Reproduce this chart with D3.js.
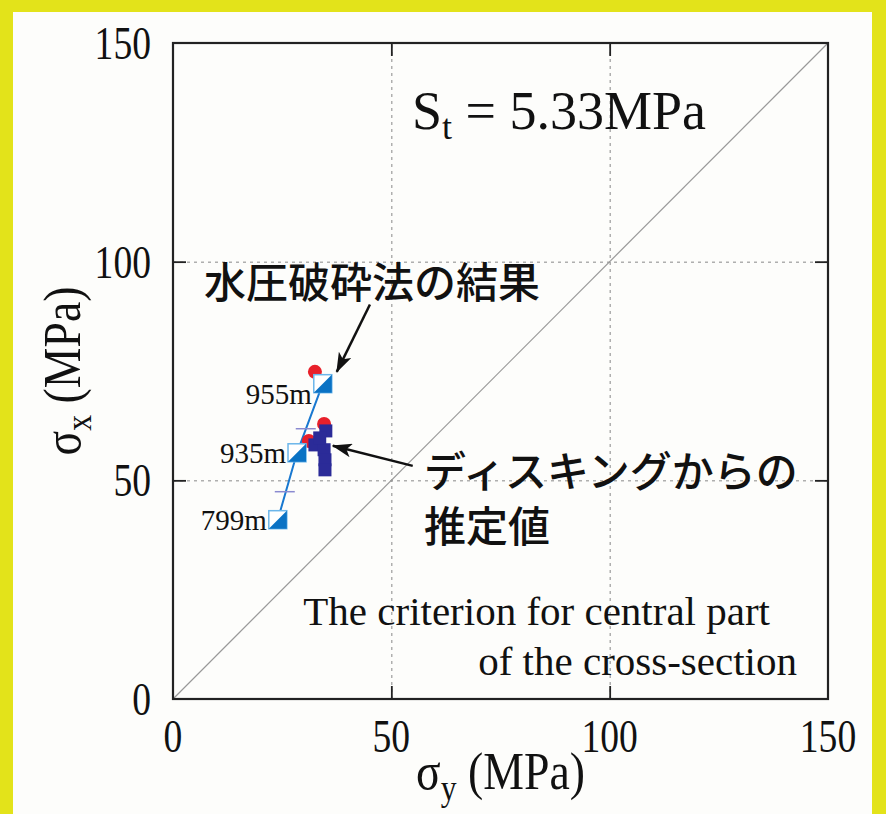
<!DOCTYPE html>
<html>
<head>
<meta charset="utf-8">
<script src="https://cdn.jsdelivr.net/npm/d3@7"></script>
<style>
  body { margin: 0; background: #e3e31a; }
  svg { display: block; }
</style>
</head>
<body>
<div id="vizArea"></div>
<script>
// hydraulic fracturing results (sigma_y, sigma_x) with depth
const hfDepths = ['799m', '935m', '955m']
const hfSy = [24.0, 28.4, 34.3]
const hfSx = [41.0, 56.3, 72.1]

// error caps along the fracturing line
const capSy = [30.4, 25.6]
const capSx = [61.8, 47.4]

// red circles
const redSy = [32.5, 34.6, 31.1]
const redSx = [74.8, 62.9, 59.0]

// disking estimates
const diskSy = [35.0, 32.5, 34.6, 34.8, 34.8, 33.6]
const diskSx = [61.3, 58.1, 57.0, 54.7, 52.4, 59.7]

const tickVals = [0, 50, 100, 150]
const gridVals = [50, 100]

const width = 886, height = 814
const margin = {top: 43, right: 58, bottom: 115, left: 173}

const svg = d3.select('#vizArea')
    .append('svg')
    .attr('width', width)
    .attr('height', height)

// background panel inside the yellow frame
svg.append('rect')
    .attr('x', 13).attr('y', 12)
    .attr('width', 859).attr('height', height)
    .attr('fill', '#fdfdfb')

const x = d3.scaleLinear().domain([0, 150]).range([margin.left, width - margin.right])
const y = d3.scaleLinear().domain([0, 150]).range([height - margin.bottom, margin.top])

const serif = 'Liberation Serif, Times New Roman, serif'
const jp = 'Noto Sans CJK JP, sans-serif'

// grid
svg.append('g')
    .attr('transform', `translate(0,${y(0)})`)
    .call(d3.axisBottom(x).tickValues(gridVals).tickSize(-(y(0) - y(150))).tickFormat(''))
    .call(g => g.select('.domain').remove())
    .selectAll('line').attr('stroke', '#888').attr('stroke-dasharray', '3,4')
svg.append('g')
    .attr('transform', `translate(${x(0)},0)`)
    .call(d3.axisLeft(y).tickValues(gridVals).tickSize(-(x(150) - x(0))).tickFormat(''))
    .call(g => g.select('.domain').remove())
    .selectAll('line').attr('stroke', '#888').attr('stroke-dasharray', '3,4')

// 1:1 line
svg.append('line')
    .attr('x1', x(0)).attr('y1', y(0))
    .attr('x2', x(150)).attr('y2', y(150))
    .attr('stroke', '#999').attr('stroke-width', 1.2)

// inward ticks on four sides
const tk = 13
svg.append('g').attr('transform', `translate(0,${y(0)})`)
    .call(d3.axisBottom(x).tickValues(gridVals).tickSize(-tk).tickFormat(''))
svg.append('g').attr('transform', `translate(0,${y(150)})`)
    .call(d3.axisTop(x).tickValues(gridVals).tickSize(-tk).tickFormat(''))
svg.append('g').attr('transform', `translate(${x(0)},0)`)
    .call(d3.axisLeft(y).tickValues(gridVals).tickSize(-tk).tickFormat(''))
svg.append('g').attr('transform', `translate(${x(150)},0)`)
    .call(d3.axisRight(y).tickValues(gridVals).tickSize(-tk).tickFormat(''))
svg.selectAll('.domain').remove()
svg.selectAll('.tick line').filter(function() { return !this.getAttribute('stroke-dasharray') })
    .attr('stroke', '#222').attr('stroke-width', 1.8)

// frame
svg.append('rect')
    .attr('x', x(0)).attr('y', y(150))
    .attr('width', x(150) - x(0)).attr('height', y(0) - y(150))
    .attr('fill', 'none').attr('stroke', '#222').attr('stroke-width', 2.2)

// tick labels
svg.selectAll('.xlab')
    .data(tickVals)
    .enter()
    .append('text')
    .attr('transform', d => `translate(${x(d)},${y(0) + 53}) scale(0.8,1)`)
    .attr('text-anchor', 'middle')
    .attr('font-family', serif).attr('font-size', 47).attr('fill', '#111')
    .text(d => d)
svg.selectAll('.ylab')
    .data(tickVals)
    .enter()
    .append('text')
    .attr('transform', d => `translate(${x(0) - 22},${y(d) + 16}) scale(0.8,1)`)
    .attr('text-anchor', 'end')
    .attr('font-family', serif).attr('font-size', 47).attr('fill', '#111')
    .text(d => d)

// axis titles
const xt = svg.append('text')
    .attr('transform', `translate(${(x(0) + x(150)) / 2},${y(0) + 90}) scale(0.88,1)`)
    .attr('text-anchor', 'middle')
    .attr('font-family', serif).attr('font-size', 52).attr('fill', '#111')
xt.append('tspan').text('σ')
xt.append('tspan').attr('font-size', 36).attr('dy', 11).text('y')
xt.append('tspan').attr('dy', -11).text(' (MPa)')

const yt = svg.append('text')
    .attr('transform', `translate(80,${(y(0) + y(150)) / 2}) rotate(-90) scale(0.88,1)`)
    .attr('text-anchor', 'middle')
    .attr('font-family', serif).attr('font-size', 52).attr('fill', '#111')
yt.append('tspan').text('σ')
yt.append('tspan').attr('font-size', 36).attr('dy', 11).text('x')
yt.append('tspan').attr('dy', -11).text(' (MPa)')

// St label
const st = svg.append('text')
    .attr('x', 412).attr('y', 129)
    .attr('font-family', serif).attr('font-size', 54).attr('fill', '#111')
st.append('tspan').text('S')
st.append('tspan').attr('font-size', 36).attr('dy', 10).text('t')
st.append('tspan').attr('dy', -10).text(' = 5.33MPa')

// criterion note
svg.append('text')
    .attr('transform', 'translate(770,625)')
    .attr('text-anchor', 'end')
    .attr('font-family', serif).attr('font-size', 41).attr('fill', '#111')
    .text('The criterion for central part')
svg.append('text')
    .attr('transform', 'translate(797,675)')
    .attr('text-anchor', 'end')
    .attr('font-family', serif).attr('font-size', 41).attr('fill', '#111')
    .text('of the cross-section')

// fracturing line
svg.append('path')
    .datum(hfSy.map((d, i) => [d, hfSx[i]]))
    .attr('d', d3.line().x(d => x(d[0])).y(d => y(d[1])))
    .attr('fill', 'none').attr('stroke', '#1878d0').attr('stroke-width', 2)

// error caps
svg.selectAll('.cap')
    .data(capSy)
    .enter()
    .append('line')
    .attr('x1', d => x(d) - 10).attr('x2', d => x(d) + 10)
    .attr('y1', (d, i) => y(capSx[i])).attr('y2', (d, i) => y(capSx[i]))
    .attr('stroke', '#8a8ad0').attr('stroke-width', 1.5)

// red circles
svg.selectAll('.red')
    .data(redSy)
    .enter()
    .append('circle')
    .attr('cx', d => x(d)).attr('cy', (d, i) => y(redSx[i]))
    .attr('r', 7)
    .attr('fill', '#e8202a')

// disking squares
const ds = 13
svg.selectAll('.disk')
    .data(diskSy)
    .enter()
    .append('rect')
    .attr('x', d => x(d) - ds / 2).attr('y', (d, i) => y(diskSx[i]) - ds / 2)
    .attr('width', ds).attr('height', ds)
    .attr('fill', '#2b2b98')

// half-filled squares
const hs = 18
const hf = svg.selectAll('.hf')
    .data(hfSy)
    .enter()
    .append('g')
    .attr('transform', (d, i) => `translate(${x(d)},${y(hfSx[i])})`)
hf.append('rect')
    .attr('x', -hs / 2).attr('y', -hs / 2)
    .attr('width', hs).attr('height', hs)
    .attr('fill', '#fff').attr('stroke', '#6cb6ea').attr('stroke-width', 1.5)
hf.append('path')
    .attr('d', `M${-hs / 2},${hs / 2}L${hs / 2},${hs / 2}L${hs / 2},${-hs / 2}Z`)
    .attr('fill', '#0a72c4')

// depth labels
svg.selectAll('.depth')
    .data(hfDepths)
    .enter()
    .append('text')
    .attr('transform', (d, i) => `translate(${x(hfSy[i]) - 11},${y(hfSx[i]) + 10 + (i === 2 ? 10 : 0)})`)
    .attr('text-anchor', 'end')
    .attr('font-family', serif).attr('font-size', 29).attr('fill', '#111')
    .text(d => d)

// arrows
const defs = svg.append('defs')
defs.append('marker')
    .attr('id', 'head')
    .attr('viewBox', '0 0 20 14')
    .attr('refX', 19).attr('refY', 7)
    .attr('markerWidth', 20).attr('markerHeight', 14)
    .attr('markerUnits', 'userSpaceOnUse')
    .attr('orient', 'auto')
    .append('path').attr('d', 'M0,0L20,7L0,14L5,7Z').attr('fill', '#111')

const arrowFrom = [[45.1, 90.2], [54.9, 53.3]]
const arrowTo = [[37.5, 74.8], [36.6, 57.9]]
svg.selectAll('.arrow')
    .data(arrowFrom)
    .enter()
    .append('line')
    .attr('x1', d => x(d[0])).attr('y1', d => y(d[1]))
    .attr('x2', (d, i) => x(arrowTo[i][0])).attr('y2', (d, i) => y(arrowTo[i][1]))
    .attr('stroke', '#111').attr('stroke-width', 2.5)
    .attr('marker-end', 'url(#head)')

// Japanese annotations
svg.append('text')
    .attr('x', 204).attr('y', 298)
    .attr('font-family', jp).attr('font-size', 42).attr('font-weight', 500).attr('fill', '#111')
    .text('水圧破砕法の結果')
svg.append('text')
    .attr('x', 424).attr('y', 487)
    .attr('font-family', jp).attr('font-size', 42).attr('font-weight', 500).attr('fill', '#111')
    .text('ディスキングからの')
svg.append('text')
    .attr('x', 424).attr('y', 542)
    .attr('font-family', jp).attr('font-size', 42).attr('font-weight', 500).attr('fill', '#111')
    .text('推定値')
</script>
</body>
</html>
